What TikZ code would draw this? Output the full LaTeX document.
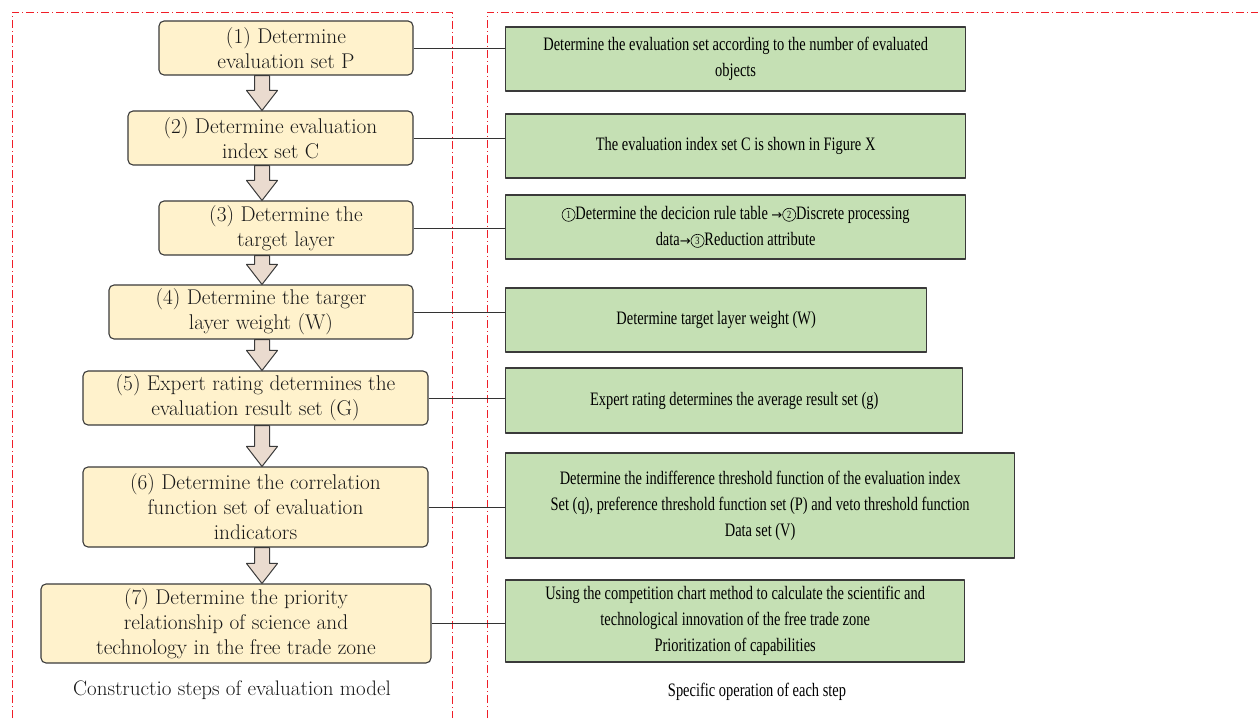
\documentclass[tikz,border=0pt]{standalone}
\usepackage{fontspec}
\usetikzlibrary{calc}
\newfontfamily\condfont[FakeStretch=0.76]{Liberation Serif}
\newfontfamily\symfont{DejaVu Sans}
\newcommand\sarrow{{\symfont\fontsize{13}{13}\selectfont →}}
\newcommand\cnum[1]{\tikz[baseline={([yshift=-1pt]cn.base)}]\node[circle,draw=black,fill=none,anchor=center,minimum size=0pt,inner sep=1.7pt,line width=0.6pt,text=black,font=\fontsize{11}{11}\selectfont] (cn) {#1};}
\definecolor{stepyellow}{HTML}{FFF2CC}
\definecolor{opgreen}{HTML}{C5E0B4}
\definecolor{arrowtan}{HTML}{EADBCF}
\definecolor{edgegray}{HTML}{3A3A3A}
\definecolor{guidered}{HTML}{F01E28}

\begin{document}
\begin{tikzpicture}[x=1pt,y=1pt,join=round,
   stepbox/.style={draw=edgegray,line width=1.1pt,fill=stepyellow,rounded corners=5pt,align=center,inner sep=2pt,font=\fontsize{21.3}{25}\selectfont,text=black!90},
   opbox/.style={draw=edgegray,line width=1.3pt,fill=opgreen,align=center,anchor=west,inner sep=2pt,font=\condfont\fontsize{19}{26}\selectfont},
   flow/.style={draw=edgegray,line width=1pt,fill=arrowtan},
   link/.style={draw=black!80,line width=0.9pt},
   guide/.style={draw=guidered,line width=0.9pt,dash pattern=on 8pt off 3pt on 1pt off 3pt}] % Evaluation steps
       \useasboundingbox (0,0) rectangle (1258,718);
       % dash-dot panels
       \draw[guide] (12,0)--(12,706)--(452,706)--(452,0);
       \draw[guide] (487,0)--(487,706)--(1258,706);
       % construction steps
       \node[stepbox,minimum width=254,minimum height=54] (l1) at (286,670) {(1) Determine\\evaluation set P};
       \node[stepbox,minimum width=285,minimum height=54] (l2) at (270.5,580) {(2) Determine evaluation\\index set C};
       \node[stepbox,minimum width=254,minimum height=54] (l3) at (286,490) {(3) Determine the\\target layer};
       \node[stepbox,minimum width=304,minimum height=54] (l4) at (261,406) {(4) Determine the targer\\layer weight (W)};
       \node[stepbox,minimum width=345,minimum height=54] (l5) at (255.5,320) {(5) Expert rating determines the\\evaluation result set (G)};
       \node[stepbox,minimum width=345,minimum height=80] (l6) at (255.5,211) {(6) Determine the correlation\\function set of evaluation\\indicators};
       \node[stepbox,minimum width=390,minimum height=79] (l7) at (236,94.5) {(7) Determine the priority\\relationship of science and\\technology in the free trade zone};
       \node[font=\fontsize{21}{24}\selectfont,text=black!90] (cap1) at (232,28) {Constructio steps of evaluation model};
       % operations
       \node[opbox,minimum width=460,minimum height=64] (r1) at (505,659) {Determine the evaluation set according to the number of evaluated\\objects};
       \node[opbox,minimum width=460,minimum height=64] (r2) at (505,572) {The evaluation index set C is shown in Figure X};
       \node[opbox,minimum width=460,minimum height=64] (r3) at (505,491) {\cnum{1}Determine the decicion rule table \sarrow\cnum{2}Discrete processing\\data\sarrow\cnum{3}Reduction attribute};
       \node[opbox,minimum width=421,minimum height=64] (r4) at (505,398) {Determine target layer weight (W)};
       \node[opbox,minimum width=457,minimum height=65] (r5) at (505,317.5) {Expert rating determines the average result set (g)};
       \node[opbox,minimum width=509,minimum height=105] (r6) at (505,212.5) {Determine the indifference threshold function of the evaluation index\\Set (q), preference threshold function set (P) and veto threshold function\\Data set (V)};
       \node[opbox,minimum width=459,minimum height=82] (r7) at (505,97) {Using the competition chart method to calculate the scientific and\\technological innovation of the free trade zone\\Prioritization of capabilities};
       \node[font=\condfont\fontsize{19}{22}\selectfont] (cap2) at (757,26) {Specific operation of each step};
       % block arrows and links
       \coordinate (ax) at (262,0);
       \foreach \a/\b in {l1/l2,l2/l3,l3/l4,l4/l5,l5/l6,l6/l7}{
          \path (ax |- \a.south) coordinate (p) (ax |- \b.north) coordinate (q);
          \filldraw[flow] ($(p)+(-7.5,0)$)--($(q)+(-7.5,20)$)--($(q)+(-15.5,20)$)--(q)--($(q)+(15.5,20)$)--($(q)+(7.5,20)$)--($(p)+(7.5,0)$)--cycle;
       }
       \foreach \i in {1,...,7}
          \draw[link] (l\i.east)--(l\i.east -| r\i.west);
   \end{tikzpicture}
\end{document}
